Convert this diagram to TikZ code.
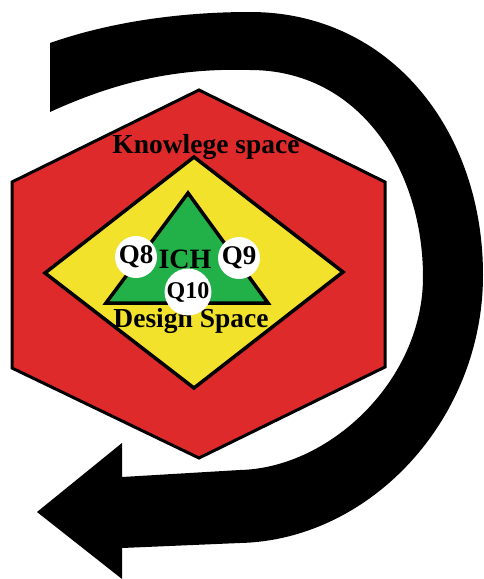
\documentclass[tikz,border=0pt]{standalone}
\usepackage{fontspec}
\setmainfont{Liberation Serif}
\definecolor{hexred}{RGB}{222,42,42}
\definecolor{diayellow}{RGB}{242,226,44}
\definecolor{trigreen}{RGB}{34,176,72}
\begin{document}
\begin{tikzpicture}[x=1pt, y=-1pt,
  lbl/.style={font=\bfseries\fontsize{27.5}{30}\selectfont, inner sep=0pt},
  qmark/.style={circle, fill=white, inner sep=0pt, minimum size=42pt,
    font=\bfseries\fontsize{27}{30}\selectfont}]
  \useasboundingbox (0,0) rectangle (483,579);
  % Cycle arrow
  \fill[black] (50,43) .. controls (110,22) and (180,12) .. (250,12)
    .. controls (390,12) and (483,130) .. (483,275)
    .. controls (483,420) and (370,540) .. (240,543)
    -- (122,548) -- (122,579) -- (37,512) -- (122,443) -- (122,477)
    -- (240,470) .. controls (330,468) and (423,380) .. (423,277)
    .. controls (423,170) and (360,70) .. (250,70)
    .. controls (180,68) and (120,80) .. (50,112) -- cycle;
  % Knowledge space
  \filldraw[fill=hexred, draw=black, line width=3pt, line join=miter]
    (199,90) -- (385,182) -- (385,367) -- (199,458) -- (12,368) -- (12,182) -- cycle;
  % Design space
  \filldraw[fill=diayellow, draw=black, line width=3.5pt]
    (194,157) -- (343,272) -- (194,388) -- (45,273) -- cycle;
  % ICH
  \filldraw[fill=trigreen, draw=black, line width=3.5pt]
    (188,193) -- (268,303) -- (106,303) -- cycle;
  % Labels
  \node[lbl, anchor=base] (knowl) at (206,153) {Knowlege space};
  \node[lbl, anchor=base] (design) at (191,327) {Design Space};
  \node[qmark] (qeight) at (136,257) {Q8};
  \node[qmark] (qnine) at (239,258) {Q9};
  \node[qmark, minimum size=40pt, font=\bfseries\fontsize{24}{26}\selectfont] (qten) at (188,292) {Q10};
  \node[lbl, anchor=base, font=\bfseries\fontsize{28}{30}\selectfont] (ich) at (185,268) {ICH};
\end{tikzpicture}
\end{document}
